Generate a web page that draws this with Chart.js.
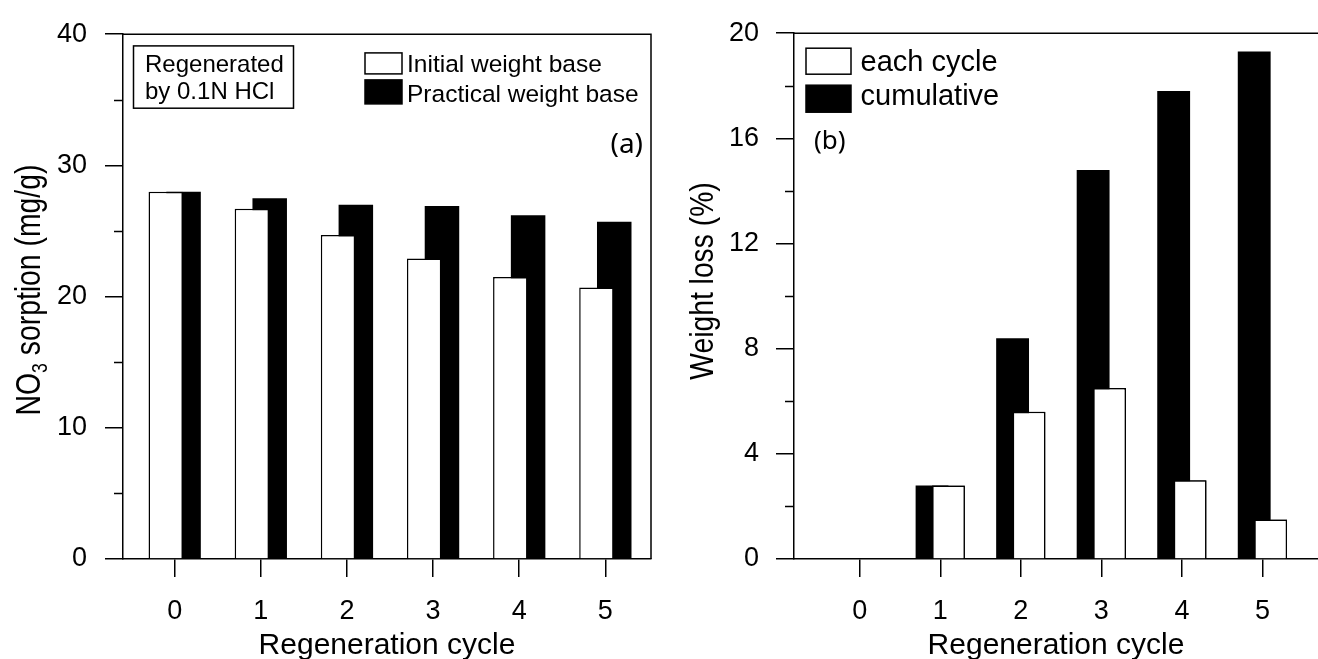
<!DOCTYPE html>
<html><head><meta charset="utf-8">
<script src="https://cdn.jsdelivr.net/npm/chart.js@4.4.1/dist/chart.umd.min.js"></script>
<style>
html,body{margin:0;padding:0;background:#fff;}
#wrap{position:relative;width:1318px;height:659px;overflow:hidden;}
.panel{position:absolute;top:0;width:659px;height:659px;}
#pa{left:0} #pb{left:659px}
</style></head><body>
<div id="wrap"><div class="panel" id="pa"><canvas id="ca"></canvas></div><div class="panel" id="pb"><canvas id="cb"></canvas></div></div>
<script>
// ---- data ----
const cycles = [0, 1, 2, 3, 4, 5];
const cycleLabels = ['0', '1', '2', '3', '4', '5'];
const initialWeightBase = [28.0, 26.7, 24.7, 22.9, 21.5, 20.7];
const practicalWeightBase = [28.0, 27.5, 27.0, 26.9, 26.2, 25.7];
const eachCycleLoss = [0, 2.8, 5.6, 6.5, 3.0, 1.5];
const cumulativeLoss = [0, 2.8, 8.4, 14.8, 17.8, 19.3];
const sorptionTicks = [0, 10, 20, 30, 40];
const lossTicks = [0, 4, 8, 12, 16, 20];
const xTitle = 'Regeneration cycle';
const yTitleA = [{t: 'NO'}, {t: '3', sub: true}, {t: ' sorption (mg/g)'}];
const yTitleB = [{t: 'Weight loss (%)'}];
const noteA = ['Regenerated', 'by 0.1N HCl'];
const panelTagA = '(a)';
const panelTagB = '(b)';
const seriesA = ['Initial weight base', 'Practical weight base'];
const seriesB = ['cumulative', 'each cycle'];

const SANS = "'Liberation Sans', Arial, Helvetica, sans-serif";
const NOTO = "'Noto Sans', 'Open Sans', sans-serif";

function toXY(vals) { return cycles.map((c, i) => ({x: c, y: vals[i]})); }

function drawRotated(ctx, parts, size, cx, cy, condense) {
  ctx.save();
  ctx.translate(cx, cy);
  ctx.rotate(-Math.PI / 2);
  ctx.scale(condense, 1);
  const widths = [];
  let total = 0;
  parts.forEach(p => {
    ctx.font = (p.sub ? size * 0.62 : size) + 'px ' + SANS;
    const w = ctx.measureText(p.t).width;
    widths.push(w); total += w;
  });
  let x = -total / 2;
  ctx.fillStyle = '#000';
  ctx.textAlign = 'left';
  ctx.textBaseline = 'alphabetic';
  parts.forEach((p, i) => {
    ctx.font = (p.sub ? size * 0.62 : size) + 'px ' + SANS;
    ctx.fillText(p.t, x, p.sub ? size * 0.2 : 0);
    x += widths[i];
  });
  ctx.restore();
}

function makeDeco(cfg) {
  return {
    id: 'deco',
    afterDatasetsDraw(chart) {
      if (cfg.redrawOnTop != null) {
        chart.getDatasetMeta(cfg.redrawOnTop).controller.draw();
      }
    },
    afterDraw(chart) {
      const {ctx, chartArea: a, scales: {y}} = chart;
      ctx.save();
      ctx.strokeStyle = '#000';
      ctx.lineWidth = 1.5;
      // frame (top + optional right)
      ctx.beginPath();
      ctx.moveTo(a.left, a.top);
      ctx.lineTo(a.right, a.top);
      if (cfg.rightBorder) ctx.lineTo(a.right, a.bottom);
      ctx.stroke();
      // minor ticks
      ctx.beginPath();
      const t = cfg.yTicks;
      for (let i = 0; i < t.length - 1; i++) {
        const py = Math.round(y.getPixelForValue((t[i] + t[i + 1]) / 2)) + 0.5;
        ctx.moveTo(a.left - cfg.minorLen, py);
        ctx.lineTo(a.left, py);
      }
      ctx.stroke();
      // y title
      drawRotated(ctx, cfg.yTitle.parts, cfg.yTitle.size, cfg.yTitle.x, cfg.yTitle.y, cfg.yTitle.condense);
      // legend
      const L = cfg.legend;
      L.rows.forEach(r => {
        const ds = chart.data.datasets[r.ds];
        ctx.fillStyle = ds.backgroundColor;
        ctx.fillRect(a.left + L.boxX, a.top + r.boxY, L.boxW, r.boxH);
        ctx.strokeStyle = '#000';
        ctx.lineWidth = 1.5;
        ctx.strokeRect(a.left + L.boxX, a.top + r.boxY, L.boxW, r.boxH);
        ctx.fillStyle = '#000';
        ctx.font = L.size + 'px ' + SANS;
        ctx.textAlign = 'left';
        ctx.textBaseline = 'alphabetic';
        ctx.fillText(ds.label, a.left + L.textX, a.top + r.textY);
      });
      // note box
      if (cfg.note) {
        const n = cfg.note;
        ctx.strokeStyle = '#000';
        ctx.lineWidth = 1.5;
        ctx.strokeRect(a.left + n.x, a.top + n.y, n.w, n.h);
        ctx.fillStyle = '#000';
        ctx.font = n.size + 'px ' + SANS;
        n.lines.forEach((s, i) => ctx.fillText(s, a.left + n.tx, a.top + n.ty[i]));
      }
      // panel tag
      const g = cfg.tag;
      ctx.font = g.size + 'px ' + NOTO;
      ctx.fillStyle = '#000';
      ctx.textAlign = g.align;
      ctx.fillText(g.text, g.align === 'right' ? a.right - g.dx : a.left + g.dx, a.top + g.dy);
      ctx.restore();
    }
  };
}

function makeChart(id, cfg) {
  return new Chart(document.getElementById(id), {
    type: 'bar',
    data: {datasets: cfg.datasets},
    options: {
      responsive: true, maintainAspectRatio: false, animation: false, devicePixelRatio: 1,
      layout: {padding: {top: cfg.padTop, right: cfg.padRight, bottom: 0, left: 0}},
      plugins: {legend: {display: false}, tooltip: {enabled: false}},
      scales: {
        x: {
          type: 'linear', min: cfg.xmin, max: cfg.xmax, offset: false,
          afterBuildTicks: s => { s.ticks = cycles.map(v => ({value: v})); },
          afterFit: s => { s.height = 100; },
          ticks: {callback: v => cycleLabels[cycles.indexOf(v)], font: {family: SANS, size: 27}, color: '#000', padding: 18, maxRotation: 0, autoSkip: false},
          grid: {offset: false, drawOnChartArea: false, drawTicks: true, tickLength: 18, color: '#000', lineWidth: 1.5},
          border: {display: true, color: '#000', width: 1.5},
          title: {display: true, text: xTitle, font: {family: SANS, size: 30, lineHeight: 0.9}, color: '#000', padding: 0}
        },
        y: {
          type: 'linear', min: cfg.yTicks[0], max: cfg.yTicks[cfg.yTicks.length - 1],
          afterBuildTicks: s => { s.ticks = cfg.yTicks.map(v => ({value: v})); },
          afterFit: s => { s.width = cfg.yWidth; },
          ticks: {callback: v => String(v), font: {family: SANS, size: 27}, color: '#000', padding: cfg.yPad},
          grid: {offset: false, drawOnChartArea: false, drawTicks: true, tickLength: 18, color: '#000', lineWidth: 1.5},
          border: {display: true, color: '#000', width: 1.5},
          title: {display: false}
        }
      }
    },
    plugins: [makeDeco(cfg)]
  });
}

const openBar = {backgroundColor: '#ffffff', borderColor: '#000000', borderWidth: 1.5};
const solidBar = {backgroundColor: '#000000', borderColor: '#000000', borderWidth: 0};

makeChart('ca', {
  padTop: 27, padRight: 8, yWidth: 123, yPad: 18,
  xmin: -0.6, xmax: 5.53, yTicks: sorptionTicks, minorLen: 9, rightBorder: true,
  datasets: [
    Object.assign({label: seriesA[0], data: toXY(initialWeightBase), categoryPercentage: 0.413, barPercentage: 1.94}, openBar),
    Object.assign({label: seriesA[1], data: toXY(practicalWeightBase), categoryPercentage: 0.413, barPercentage: 1.94}, solidBar)
  ],
  yTitle: {parts: yTitleA, size: 35, x: 40, y: 290, condense: 0.81},
  legend: {boxX: 242, boxW: 37, size: 24.5, textX: 284, rows: [
    {ds: 0, boxY: 18.7, boxH: 21, textY: 38},
    {ds: 1, boxY: 45.7, boxH: 24, textY: 68}
  ]},
  note: {x: 10.5, y: 11.7, w: 160, h: 62.3, tx: 22, ty: [38, 64.7], size: 24, lines: noteA},
  tag: {text: panelTagA, size: 28, align: 'right', dx: 8, dy: 119}
});

makeChart('cb', {
  padTop: 28, padRight: 0, yWidth: 135, yPad: 17,
  xmin: -0.816, xmax: 5.69, yTicks: lossTicks, minorLen: 9, rightBorder: false, redrawOnTop: 1,
  datasets: [
    Object.assign({label: seriesB[0], data: toXY(cumulativeLoss), categoryPercentage: 0.408, barPercentage: 2.0}, solidBar),
    Object.assign({label: seriesB[1], data: toXY(eachCycleLoss), categoryPercentage: 0.408, barPercentage: 2.0}, openBar)
  ],
  yTitle: {parts: yTitleB, size: 32.5, x: 54, y: 281, condense: 0.87},
  legend: {boxX: 12, boxW: 45, size: 29, textX: 66.6, rows: [
    {ds: 1, boxY: 15, boxH: 26, textY: 38},
    {ds: 0, boxY: 52, boxH: 27, textY: 72}
  ]},
  note: null,
  tag: {text: panelTagB, size: 26, align: 'left', dx: 20, dy: 116}
});
</script>
</body></html>
